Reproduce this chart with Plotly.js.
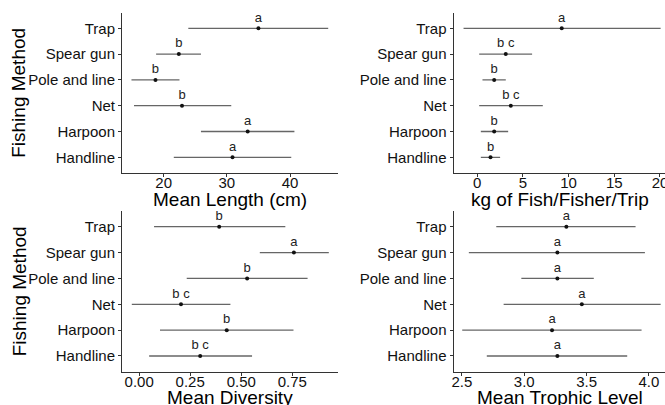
<!DOCTYPE html>
<html>
<head>
<meta charset="utf-8">
<script src="https://cdn.plot.ly/plotly-3.0.1.min.js"></script>
<style>html,body{margin:0;padding:0;background:#fff;}#chart{width:665px;height:405px;}</style>
</head>
<body>
<div id="chart"></div>
<script>
// Categories (bottom to top)
const methods = ["Handline", "Harpoon", "Net", "Pole and line", "Spear gun", "Trap"];

// Mean Length (cm)
const lengthMean  = [30.9, 33.3, 22.9, 18.7, 22.4, 35.0];
const lengthLower = [21.6, 25.9, 15.3, 14.9, 18.8, 23.9];
const lengthUpper = [40.2, 40.7, 30.7, 22.5, 25.9, 46.05];
const lengthGroups = ["a", "a", "b", "b", "b", "a"];

// kg of Fish/Fisher/Trip
const catchMean  = [1.46, 1.86, 3.68, 1.86, 3.13, 9.25];
const catchLower = [0.4, 0.4, 0.22, 0.58, 0.22, -1.49];
const catchUpper = [2.51, 3.39, 7.18, 3.13, 6.01, 20.07];
const catchGroups = ["b", "b", "b c", "b", "b c", "a"];

// Mean Diversity
const divMean  = [0.299, 0.429, 0.205, 0.529, 0.758, 0.392];
const divLower = [0.049, 0.102, -0.036, 0.233, 0.591, 0.073];
const divUpper = [0.553, 0.756, 0.447, 0.825, 0.929, 0.716];
const divGroups = ["b c", "b", "b c", "b", "a", "b"];

// Mean Trophic Level
const tlMean  = [3.266, 3.223, 3.462, 3.266, 3.266, 3.338];
const tlLower = [2.70, 2.503, 2.835, 2.977, 2.556, 2.776];
const tlUpper = [3.826, 3.941, 4.094, 3.558, 3.968, 3.893];
const tlGroups = ["a", "a", "a", "a", "a", "a"];

// Titles
const xTitles = ["Mean Length (cm)", "kg of Fish/Fisher/Trip", "Mean Diversity", "Mean Trophic Level"];
const yTitle = "Fishing Method";

function panel(mean, lower, upper, groups, xa, ya) {
  return {
    type: "scatter",
    mode: "markers+text",
    x: mean,
    y: methods,
    xaxis: xa,
    yaxis: ya,
    text: groups,
    textposition: "top center",
    textfont: {family: "Liberation Sans, Arial, sans-serif", size: 13, color: "#222"},
    marker: {color: "#111", size: 4},
    error_x: {
      type: "data",
      symmetric: false,
      array: upper.map((u, i) => u - mean[i]),
      arrayminus: lower.map((l, i) => mean[i] - l),
      width: 0,
      thickness: 1.3,
      color: "#666"
    },
    cliponaxis: false,
    hoverinfo: "skip",
    showlegend: false
  };
}

const data = [
  panel(lengthMean, lengthLower, lengthUpper, lengthGroups, "x", "y"),
  panel(catchMean, catchLower, catchUpper, catchGroups, "x2", "y2"),
  panel(divMean, divLower, divUpper, divGroups, "x3", "y3"),
  panel(tlMean, tlLower, tlUpper, tlGroups, "x4", "y4")
];

const W = 665, H = 405;
const font = "Liberation Sans, Arial, sans-serif";
function xaxis(domain, range, anchor, dtick, fmt) {
  return {
    domain: domain, range: range, anchor: anchor,
    showline: true, linecolor: "#333", linewidth: 1,
    showgrid: false, zeroline: false,
    ticks: "outside", ticklen: 3, tickcolor: "#333",
    ticklabelstandoff: -7,
    ticklabeloverflow: "allow",
    dtick: dtick, tickformat: fmt,
    tickfont: {family: font, size: 15, color: "#111"}
  };
}
function yaxis(domain, anchor) {
  return {
    domain: domain, anchor: anchor,
    type: "category", categoryorder: "array", categoryarray: methods,
    range: [-0.6, 5.6],
    showline: true, linecolor: "#333", linewidth: 1,
    showgrid: false, zeroline: false,
    ticks: "outside", ticklen: 3, tickcolor: "#333",
    tickfont: {family: font, size: 15, color: "#111"}
  };
}
const xL = [122 / W, 338 / W], xR = [453.5 / W, 1];
const yT = [1 - 172.8 / H, 1 - 12.8 / H], yB = [1 - 371.5 / H, 1 - 211.2 / H];

function titleAnn(text, xc, yc, rot) {
  return {
    text: text, xref: "paper", yref: "paper",
    x: xc / W, y: 1 - yc / H, xanchor: "center", yanchor: "middle",
    showarrow: false, textangle: rot || 0,
    font: {family: font, size: 19, color: "#000"}
  };
}

const layout = {
  width: W, height: H,
  margin: {l: 0, r: 0, t: 0, b: 0},
  paper_bgcolor: "#fff", plot_bgcolor: "#fff",
  font: {family: font},
  xaxis: xaxis(xL, [13.4, 47.6], "y", 10),
  yaxis: yaxis(yT, "x"),
  xaxis2: xaxis(xR, [-2.59, 20.55], "y2", 5),
  yaxis2: yaxis(yT, "x2"),
  xaxis3: xaxis(xL, [-0.084, 0.974], "y3", 0.25, ".2f"),
  yaxis3: yaxis(yB, "x3"),
  xaxis4: xaxis(xR, [2.433, 4.129], "y4", 0.5, ".1f"),
  yaxis4: yaxis(yB, "x4"),
  annotations: [
    titleAnn(xTitles[0], 230, 199),
    titleAnn(xTitles[1], 560, 199),
    titleAnn(xTitles[2], 230, 397),
    titleAnn(xTitles[3], 560, 397),
    titleAnn(yTitle, 19, 92.8, -90),
    titleAnn(yTitle, 19, 291.3, -90)
  ]
};

Plotly.newPlot("chart", data, layout, {displayModeBar: false, staticPlot: true});
</script>
</body>
</html>
